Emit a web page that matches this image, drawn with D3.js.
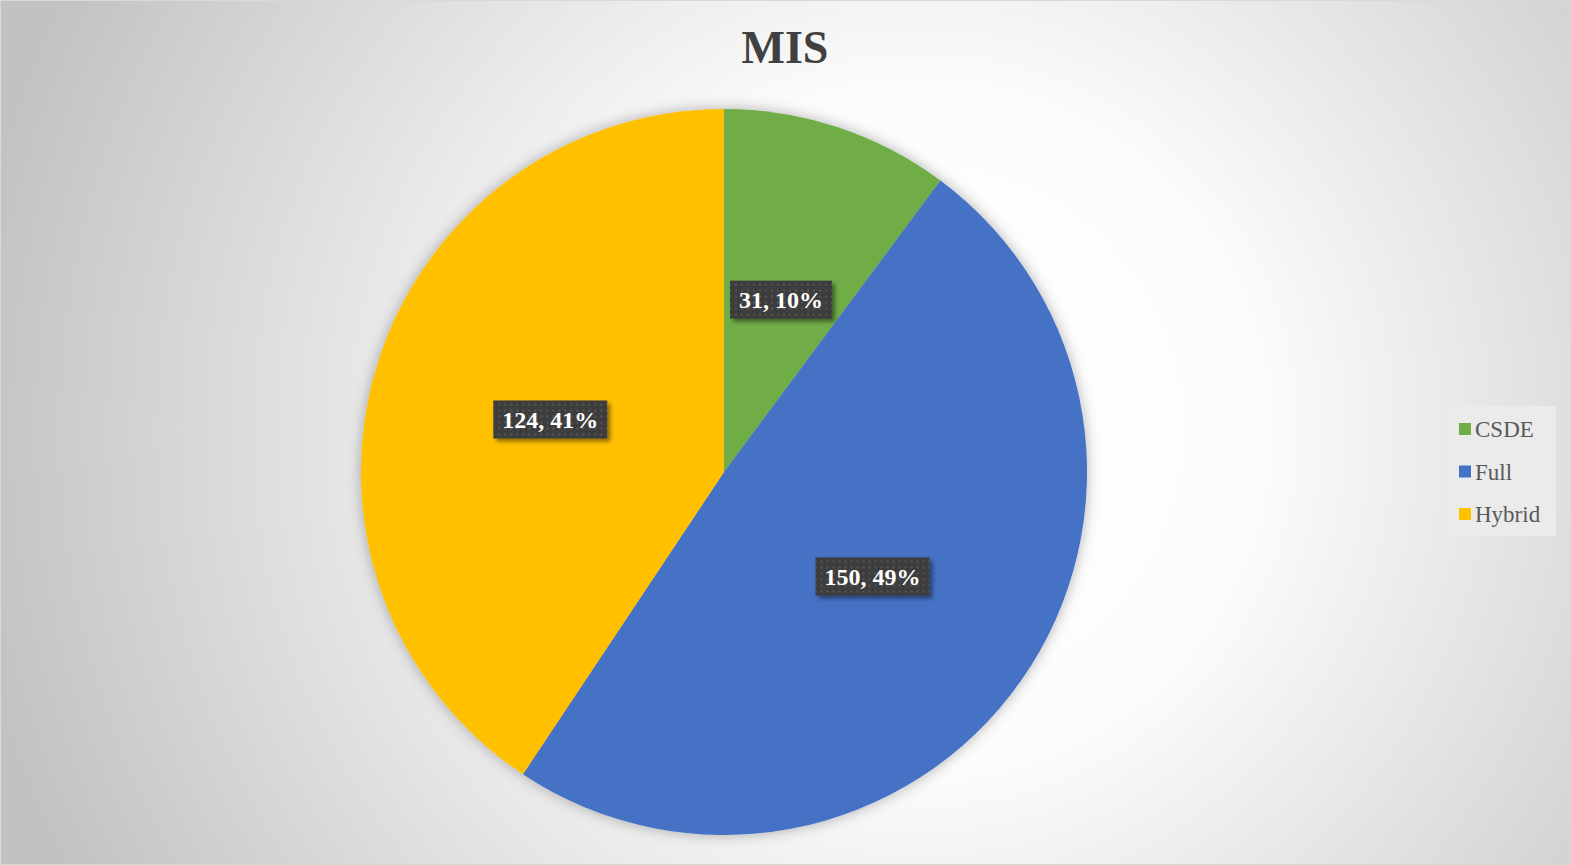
<!DOCTYPE html>
<html>
<head>
<meta charset="utf-8">
<script src="https://cdn.jsdelivr.net/npm/d3@7"></script>
<style>
  body { margin: 0; padding: 0; overflow: hidden; }
  svg { display: block; }
</style>
</head>
<body>
<div id="chart-area"></div>
<script>
const WIDTH = 1571
const HEIGHT = 865

// data
const categories = ["CSDE", "Full", "Hybrid"]
const values = [31, 150, 124]
const colors = ["#70AD47", "#4472C4", "#FFC000"]
const title = "MIS"

const CENTER = { X: 724, Y: 472 }
const RADIUS = 363
const SERIF = "'Liberation Serif', 'DejaVu Serif', serif"

const svg = d3.select("#chart-area").append("svg")
	.attr("width", WIDTH)
	.attr("height", HEIGHT)

const defs = svg.append("defs")

// background radial gradient
const grad = defs.append("radialGradient")
	.attr("id", "bg-grad")
	.attr("gradientUnits", "userSpaceOnUse")
	.attr("cx", 920).attr("cy", 430).attr("r", 960)
grad.append("stop").attr("offset", "0").attr("stop-color", "#ffffff")
grad.append("stop").attr("offset", "0.35").attr("stop-color", "#fcfcfc")
grad.append("stop").attr("offset", "1").attr("stop-color", "#c2c2c2")

// soft shadow around the pie
const pieShadow = defs.append("filter")
	.attr("id", "pie-shadow")
	.attr("x", "-10%").attr("y", "-10%").attr("width", "120%").attr("height", "120%")
pieShadow.append("feDropShadow")
	.attr("dx", 0).attr("dy", 0)
	.attr("stdDeviation", 7)
	.attr("flood-color", "#000")
	.attr("flood-opacity", 0.3)

// label box shadow
const boxShadow = defs.append("filter")
	.attr("id", "box-shadow")
	.attr("x", "-20%").attr("y", "-30%").attr("width", "150%").attr("height", "180%")
boxShadow.append("feDropShadow")
	.attr("dx", 3).attr("dy", 3)
	.attr("stdDeviation", 2)
	.attr("flood-color", "#000")
	.attr("flood-opacity", 0.45)

// dotted pattern for label boxes
const pat = defs.append("pattern")
	.attr("id", "dots")
	.attr("patternUnits", "userSpaceOnUse")
	.attr("width", 6).attr("height", 6)
pat.append("rect").attr("width", 6).attr("height", 6).attr("fill", "#3e3e3e")
pat.append("rect").attr("x", 2).attr("y", 2).attr("width", 2).attr("height", 2).attr("fill", "#555555")

// background
svg.append("rect")
	.attr("x", 0.5).attr("y", 0.5)
	.attr("width", WIDTH - 1).attr("height", HEIGHT - 1)
	.attr("fill", "url(#bg-grad)")
	.attr("stroke", "#d9d9d9")

// title
svg.append("text")
	.attr("x", 785)
	.attr("y", 63)
	.attr("text-anchor", "middle")
	.attr("font-family", SERIF)
	.attr("font-weight", "bold")
	.attr("font-size", 46)
	.attr("fill", "#404040")
	.text(title)

// pie
const pie = d3.pie().sort(null).value(d => d.value)
const arc = d3.arc().innerRadius(0).outerRadius(RADIUS)
const labelArc = d3.arc().innerRadius(RADIUS * 0.5).outerRadius(RADIUS * 0.5)

const data = categories.map((c, i) => ({ name: c, value: values[i], color: colors[i] }))
const arcs = pie(data)
const total = d3.sum(values)

const g = svg.append("g")
	.attr("transform", `translate(${CENTER.X}, ${CENTER.Y})`)

g.append("g")
	.attr("filter", "url(#pie-shadow)")
	.selectAll("path")
	.data(arcs)
	.enter().append("path")
	.attr("d", arc)
	.attr("fill", d => d.data.color)

// data labels
const labels = g.selectAll(".label")
	.data(arcs)
	.enter().append("g")
	.attr("class", "label")
	.attr("transform", d => `translate(${labelArc.centroid(d)})`)

labels.append("rect")
	.attr("class", "label-box")
	.attr("fill", "url(#dots)")
	.attr("filter", "url(#box-shadow)")

labels.append("text")
	.attr("text-anchor", "middle")
	.attr("dy", "0.35em")
	.attr("font-family", SERIF)
	.attr("font-weight", "bold")
	.attr("font-size", 24)
	.attr("fill", "#ffffff")
	.text(d => `${d.data.value}, ${Math.round(d.data.value / total * 100)}%`)

labels.each(function() {
	const lg = d3.select(this)
	const bb = lg.select("text").node().getBBox()
	const w = bb.width + 18
	const h = 38
	lg.select("rect")
		.attr("x", -w / 2).attr("y", -h / 2)
		.attr("width", w).attr("height", h)
})

// legend
const legend = svg.append("g")
	.attr("transform", "translate(1448, 406)")

legend.append("rect")
	.attr("width", 108)
	.attr("height", 130)
	.attr("fill", "#ebebeb")

const rowY = d3.scalePoint().domain(categories).range([23, 108])

const item = legend.selectAll(".item")
	.data(data)
	.enter().append("g")
	.attr("transform", d => `translate(11, ${rowY(d.name)})`)

item.append("rect")
	.attr("x", 0).attr("y", -6)
	.attr("width", 12).attr("height", 12)
	.attr("fill", d => d.color)

item.append("text")
	.attr("x", 16)
	.attr("dy", "0.35em")
	.attr("font-family", SERIF)
	.attr("font-size", 23)
	.attr("fill", "#595959")
	.text(d => d.name)
</script>
</body>
</html>
